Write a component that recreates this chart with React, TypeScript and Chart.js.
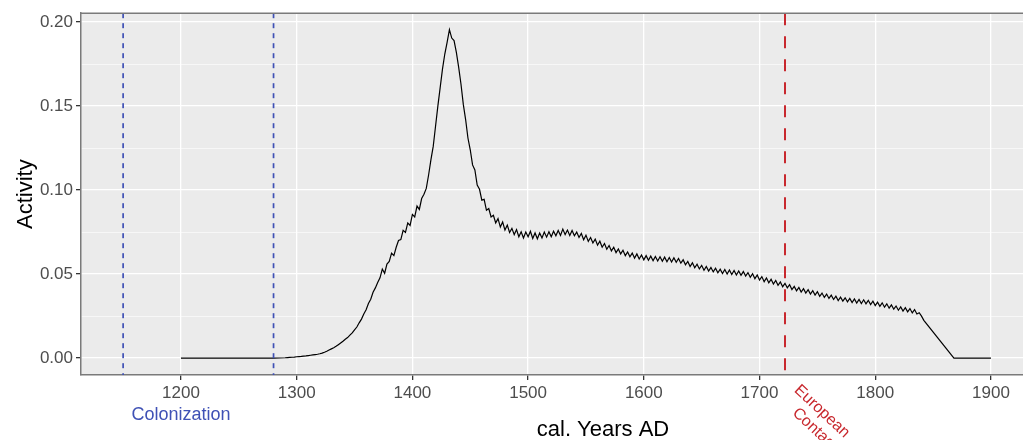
import React, { useEffect, useRef } from "react";
import { Chart, registerables } from "chart.js";

Chart.register(...registerables);

// ---- data ----
const seriesStartYear = 1290;
const seriesStepYears = 2;
// activity values every 2 years from 1290 to 1840
const activity = [
  0.0002, 0.0003, 0.0004, 0.0005, 0.0006, 0.0008, 0.0009, 0.0010, 0.0012, 0.0013,
  0.0015, 0.0017, 0.0019, 0.0021, 0.0023, 0.0026, 0.0030, 0.0035, 0.0041, 0.0048,
  0.0055, 0.0062, 0.0070, 0.0080, 0.0090, 0.0100, 0.0112, 0.0122, 0.0137, 0.0150,
  0.0168, 0.0185, 0.0210, 0.0232, 0.0262, 0.0288, 0.0325, 0.0350, 0.0392, 0.0418,
  0.0450, 0.0478, 0.0530, 0.0505, 0.0560, 0.0575, 0.0625, 0.0610, 0.0660, 0.0700,
  0.0705, 0.0760, 0.0748, 0.0805, 0.0790, 0.0855, 0.0840, 0.0905, 0.0885, 0.0950,
  0.0975, 0.1010, 0.1090, 0.1180, 0.1260, 0.1380, 0.1500, 0.1610, 0.1720, 0.1810,
  0.1880, 0.1955, 0.1905, 0.1890, 0.1820, 0.1730, 0.1630, 0.1510, 0.1420, 0.1310,
  0.1240, 0.1150, 0.1120, 0.1030, 0.1005, 0.0940, 0.0945, 0.0880, 0.0890, 0.0840,
  0.0850, 0.0805, 0.0830, 0.0780, 0.0810, 0.0762, 0.0792, 0.0748, 0.0772, 0.0735,
  0.0765, 0.0722, 0.0752, 0.0715, 0.0750, 0.0722, 0.0755, 0.0712, 0.0745, 0.0710,
  0.0745, 0.0715, 0.0750, 0.0720, 0.0752, 0.0722, 0.0755, 0.0728, 0.0760, 0.0730,
  0.0768, 0.0735, 0.0762, 0.0730, 0.0760, 0.0728, 0.0750, 0.0718, 0.0742, 0.0705,
  0.0732, 0.0695, 0.0718, 0.0685, 0.0708, 0.0672, 0.0696, 0.0660, 0.0682, 0.0648,
  0.0670, 0.0638, 0.0660, 0.0628, 0.0650, 0.0620, 0.0642, 0.0610, 0.0632, 0.0603,
  0.0625, 0.0595, 0.0620, 0.0590, 0.0614, 0.0585, 0.0610, 0.0582, 0.0607, 0.0580,
  0.0605, 0.0578, 0.0603, 0.0576, 0.0601, 0.0574, 0.0599, 0.0572, 0.0597, 0.0570,
  0.0593, 0.0565, 0.0585, 0.0555, 0.0575, 0.0545, 0.0567, 0.0538, 0.0559, 0.0531,
  0.0552, 0.0523, 0.0545, 0.0518, 0.0539, 0.0513, 0.0535, 0.0508, 0.0529, 0.0503,
  0.0527, 0.0501, 0.0525, 0.0498, 0.0522, 0.0495, 0.0519, 0.0493, 0.0515, 0.0488,
  0.0509, 0.0481, 0.0502, 0.0473, 0.0495, 0.0465, 0.0485, 0.0455, 0.0477, 0.0448,
  0.0469, 0.0441, 0.0462, 0.0433, 0.0453, 0.0425, 0.0445, 0.0418, 0.0437, 0.0408,
  0.0427, 0.0401, 0.0421, 0.0393, 0.0413, 0.0387, 0.0407, 0.0381, 0.0401, 0.0375,
  0.0395, 0.0368, 0.0387, 0.0361, 0.0381, 0.0355, 0.0375, 0.0349, 0.0369, 0.0343,
  0.0363, 0.0339, 0.0359, 0.0335, 0.0355, 0.0331, 0.0352, 0.0328, 0.0349, 0.0325,
  0.0347, 0.0323, 0.0344, 0.0319, 0.0339, 0.0313, 0.0333, 0.0308, 0.0329, 0.0303,
  0.0323, 0.0297, 0.0317, 0.0291, 0.0310, 0.0285, 0.0305, 0.0280, 0.0300, 0.0275,
  0.0295, 0.0269, 0.0289, 0.0263, 0.0270, 0.0250,
];
// points before and after the 2-year series
const leadYears = [1200, 1280];
const leadValues = [0, 0];
const tailYears = [1842, 1868, 1900];
const tailValues = [0.0225, 0, 0];

const xTickValues = [1200, 1300, 1400, 1500, 1600, 1700, 1800, 1900];
const yTickValues = [0, 0.025, 0.05, 0.075, 0.1, 0.125, 0.15, 0.175, 0.2];
const yMajorStep = 0.05;

const colonizationYears = [1150, 1280];
const colonizationLabelYear = 1200;
const contactYear = 1722;

const xTitle = "cal. Years AD";
const yTitle = "Activity";
const colonizationLabel = "Colonization";
const contactLabelLines = ["European", "Contact"];

const FONT = "'Liberation Sans', Arial, Helvetica, sans-serif";
const BLUE = "#3F51B5";
const RED = "#C8282E";

const isMajor = (v: number) =>
  Math.abs(v / yMajorStep - Math.round(v / yMajorStep)) < 1e-6;

export default function App() {
  const ref = useRef<HTMLCanvasElement | null>(null);

  useEffect(() => {
    const canvas = ref.current;
    if (!canvas) return;

    const points: { x: number; y: number }[] = [];
    leadYears.forEach((yr, i) => points.push({ x: yr, y: leadValues[i] }));
    activity.forEach((v, i) =>
      points.push({ x: seriesStartYear + i * seriesStepYears, y: v })
    );
    tailYears.forEach((yr, i) => points.push({ x: yr, y: tailValues[i] }));

    const annotations = {
      id: "annotations",
      beforeDraw(chart: any) {
        const { ctx, chartArea } = chart;
        ctx.save();
        ctx.fillStyle = "#EBEBEB";
        ctx.fillRect(
          chartArea.left,
          chartArea.top,
          chartArea.right - chartArea.left,
          chartArea.bottom - chartArea.top
        );
        ctx.restore();
      },
      afterDatasetsDraw(chart: any) {
        const { ctx, chartArea, scales } = chart;
        const xs = scales.x;
        ctx.save();
        ctx.beginPath();
        ctx.rect(
          chartArea.left,
          chartArea.top,
          chartArea.right - chartArea.left,
          chartArea.bottom - chartArea.top
        );
        ctx.clip();
        ctx.strokeStyle = BLUE;
        ctx.lineWidth = 1.7;
        ctx.setLineDash([5, 5]);
        colonizationYears.forEach((yr) => {
          const px = xs.getPixelForValue(yr);
          ctx.beginPath();
          ctx.moveTo(px, chartArea.top);
          ctx.lineTo(px, chartArea.bottom);
          ctx.stroke();
        });
        ctx.strokeStyle = RED;
        ctx.lineWidth = 2;
        ctx.setLineDash([12, 11]);
        const cx = xs.getPixelForValue(contactYear);
        ctx.beginPath();
        ctx.moveTo(cx, chartArea.top);
        ctx.lineTo(cx, chartArea.bottom);
        ctx.stroke();
        ctx.restore();
      },
      afterDraw(chart: any) {
        const { ctx, chartArea, scales } = chart;
        const xs = scales.x;
        ctx.save();
        // top panel border
        ctx.strokeStyle = "#7A7A7A";
        ctx.lineWidth = 1.5;
        ctx.beginPath();
        ctx.moveTo(chartArea.left, chartArea.top);
        ctx.lineTo(chartArea.right, chartArea.top);
        ctx.stroke();

        // x axis title (centred on the full, wider panel of the original figure)
        ctx.fillStyle = "#000000";
        ctx.font = `22px ${FONT}`;
        ctx.textAlign = "center";
        ctx.textBaseline = "alphabetic";
        ctx.fillText(xTitle, 603, 436);

        // Colonization label
        ctx.fillStyle = BLUE;
        ctx.font = `18px ${FONT}`;
        ctx.textAlign = "center";
        ctx.textBaseline = "alphabetic";
        ctx.fillText(
          colonizationLabel,
          xs.getPixelForValue(colonizationLabelYear),
          chartArea.bottom + 45
        );

        // European Contact label, rotated
        const cx = xs.getPixelForValue(contactYear);
        ctx.translate(cx + 17, chartArea.bottom + 7);
        ctx.rotate((43 * Math.PI) / 180);
        ctx.fillStyle = RED;
        ctx.font = `16px ${FONT}`;
        ctx.textBaseline = "top";
        const w1 = ctx.measureText(contactLabelLines[0]).width;
        ctx.textAlign = "left";
        ctx.fillText(contactLabelLines[0], 0, 0);
        ctx.textAlign = "right";
        ctx.fillText(contactLabelLines[1], w1, 18);
        ctx.restore();
      },
    };

    const chart = new Chart(canvas, {
      type: "line",
      data: {
        datasets: [
          {
            data: points,
            borderColor: "#000000",
            borderWidth: 1.2,
            pointRadius: 0,
            tension: 0,
            fill: false,
          },
        ],
      },
      options: {
        animation: false,
        responsive: false,
        maintainAspectRatio: false,
        layout: { padding: { top: 11, right: 0, bottom: 0, left: 0 } },
        plugins: {
          legend: { display: false },
          tooltip: { enabled: false },
        },
        scales: {
          x: {
            type: "linear",
            min: 1113.6,
            max: 1927.7,
            afterBuildTicks: (scale: any) => {
              scale.ticks = xTickValues.map((v) => ({ value: v }));
            },
            afterFit: (scale: any) => {
              scale.height = 65;
            },
            grid: {
              color: "#FFFFFF",
              lineWidth: 1.3,
              tickColor: "#333333",
              tickWidth: 1.3,
              tickLength: 5,
              drawOnChartArea: true,
            },
            border: { display: true, color: "#7A7A7A", width: 1.5 },
            ticks: {
              color: "#4D4D4D",
              font: { family: FONT, size: 17 },
              padding: 3,
              maxRotation: 0,
              autoSkip: false,
              callback: (v: any) => String(v),
            },
            title: { display: false, text: xTitle },
          },
          y: {
            type: "linear",
            min: -0.01006,
            max: 0.2053,
            afterBuildTicks: (scale: any) => {
              scale.ticks = yTickValues.map((v) => ({ value: v }));
            },
            afterFit: (scale: any) => {
              scale.width = 81;
            },
            grid: {
              color: "#FFFFFF",
              lineWidth: (ctx: any) =>
                ctx.tick && isMajor(ctx.tick.value) ? 1.3 : 0.6,
              tickColor: (ctx: any) =>
                ctx.tick && isMajor(ctx.tick.value) ? "#333333" : "rgba(0,0,0,0)",
              tickWidth: 1.3,
              tickLength: 5,
            },
            border: { display: true, color: "#7A7A7A", width: 1.5 },
            ticks: {
              color: "#4D4D4D",
              font: { family: FONT, size: 17 },
              padding: 3,
              autoSkip: false,
              callback: (v: any) => (isMajor(Number(v)) ? Number(v).toFixed(2) : ""),
            },
            title: {
              display: true,
              text: yTitle,
              color: "#000000",
              font: { family: FONT, size: 22 },
              padding: { top: 13, bottom: 0 },
            },
          },
        },
      },
      plugins: [annotations],
    });

    return () => chart.destroy();
  }, []);

  return (
    <div style={{ position: "fixed", left: 0, top: 0, width: 1023, height: 440, background: "#FFFFFF" }}>
      <canvas ref={ref} width={1023} height={440} style={{ width: 1023, height: 440, display: "block" }} />
    </div>
  );
}
